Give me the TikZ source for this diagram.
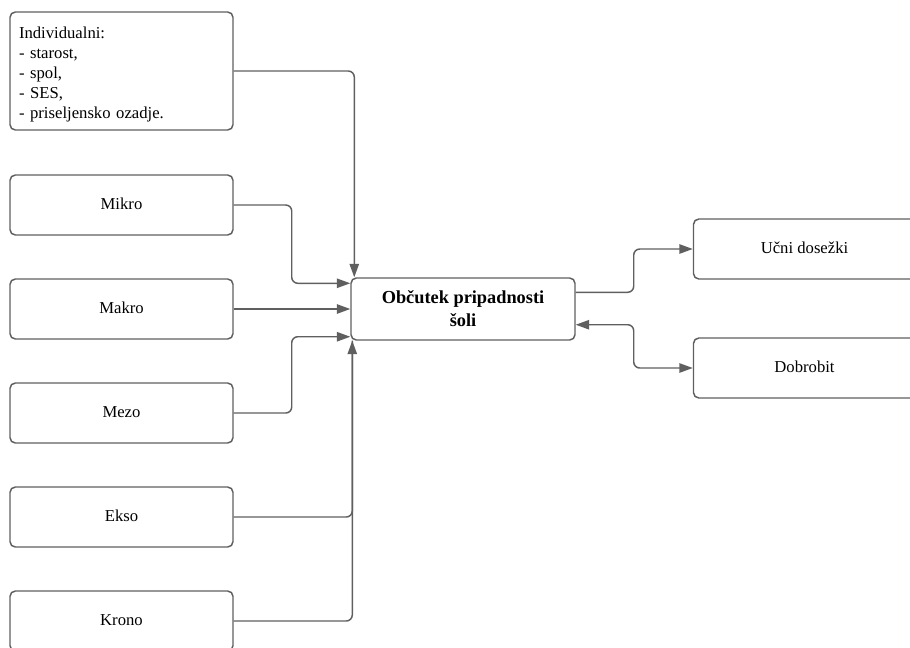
\documentclass[tikz,border=0pt]{standalone}
\usepackage{fontspec}
\setmainfont{Liberation Serif}
\usetikzlibrary{arrows.meta,calc}
\definecolor{linegray}{HTML}{5F5F5F}
\tikzset{
	box/.style = {draw=linegray, line width=1.1pt, rounded corners=4pt, minimum width=167.25pt, minimum height=45pt, inner sep=0pt, font=\fontsize{12.5}{15}\selectfont},
	single/.style = {box, text depth=2pt},
	conn/.style = {draw=linegray, line width=1.1pt, rounded corners=4.5pt, -{Triangle[length=10pt,width=7pt]}},
}
\begin{document}
\begin{tikzpicture} [x=0.75pt, y=-0.75pt]
		\useasboundingbox (0,0) rectangle (910,647);
		% left column
		\node [box, minimum height=88.5pt, text width=153.75pt, align=left] (ind) at (121.5,71) {\rule{0pt}{13.5pt}Individualni:\\- starost,\\- spol,\\- SES,\\- priseljensko ozadje.};
		\node [single] (mikro) at (121.5,205) {Mikro};
		\node [single] (makro) at (121.5,309) {Makro};
		\node [single] (mezo) at (121.5,413) {Mezo};
		\node [single] (ekso) at (121.5,517) {Ekso};
		\node [single] (krono) at (121.5,621) {Krono};
		% middle
		\node [box, minimum width=168pt, minimum height=46.5pt, align=center, font=\fontsize{13.75}{17.25}\selectfont\bfseries] (cen) at (463,309) {Občutek pripadnosti\\šoli};
		% right column
		\node [single, minimum width=166.5pt] (ucni) at (804.5,249) {Učni dosežki};
		\node [single, minimum width=166.5pt] (dobro) at (804.5,368) {Dobrobit};
		% connectors
		\draw [conn] (ind.east) -| ($(cen.north west)+(4,0)$);
		\draw [conn] (mikro.east) -- ++(58,0) |- ($(cen.north west)+(0,6)$);
		\draw [conn] (makro.east) -- (cen.west);
		\draw [conn] (mezo.east) -- ++(58,0) |- ($(cen.south west)+(0,-4)$);
		\draw [conn] (ekso.east) -| ($(cen.south west)+(2,0)$);
		\draw [conn, -] (krono.east) -| ($(cen.south west)+(2,0)$);
		\draw [conn] ($(cen.north east)+(0,15)$) -- ++(58,0) |- (ucni.west);
		\draw [conn, {Triangle[length=10pt,width=7pt]}-{Triangle[length=10pt,width=7pt]}] ($(cen.south east)+(0,-16)$) -- ++(58,0) |- (dobro.west);
	\end{tikzpicture}
\end{document}
